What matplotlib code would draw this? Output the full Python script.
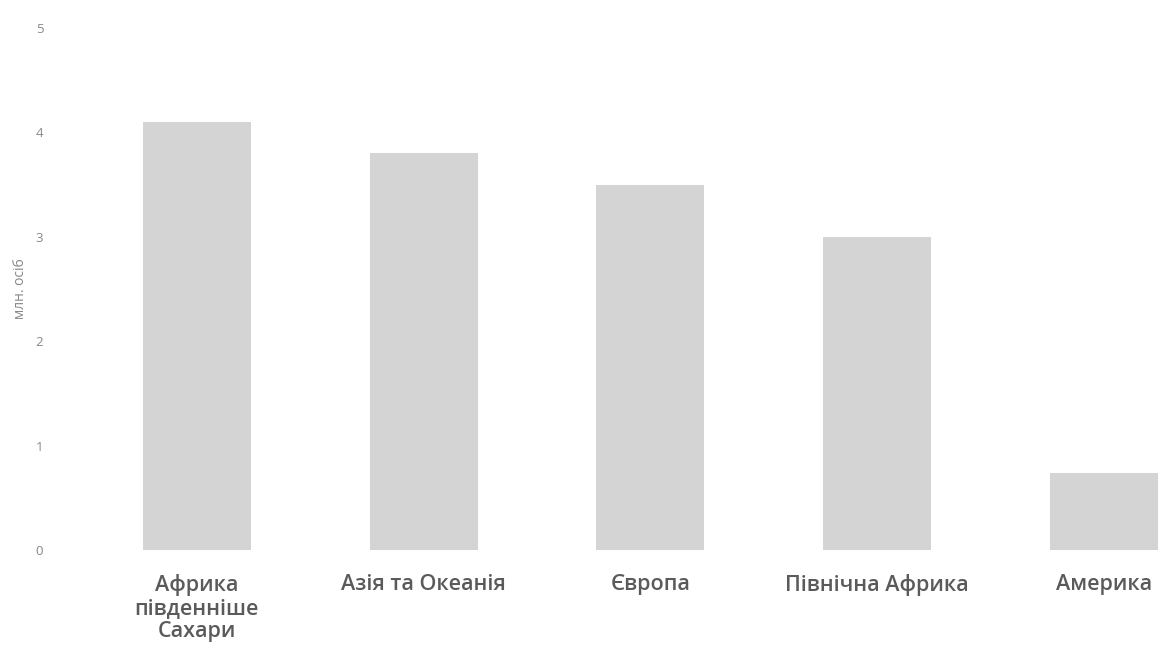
import numpy as np
import matplotlib.pyplot as plt

regions = ['Африка\nпівденніше\nСахари', 'Азія та Океанія', 'Європа',
           'Північна Африка', 'Америка']
values = [4.1, 3.8, 3.5, 3.0, 0.74]
yticks = [0, 1, 2, 3, 4, 5]

plt.rcParams['font.family'] = ['DejaVu Sans']

fig = plt.figure(figsize=(11.6, 6.52), dpi=100)
ax = fig.add_axes([0.0517, 0.1564, 0.948, 0.8006])

x = np.arange(len(regions))
ax.bar(x, values, width=0.476, color='#d4d4d4')

ax.set_xlim(-0.604, 4.247)
ax.set_ylim(0, 5)
ax.set_yticks(yticks)
ax.set_yticklabels([str(v) for v in yticks], fontsize=9.5, color='#888888',
                   family='Open Sans')
ax.set_xticks(x)
ax.set_xticklabels(regions, fontsize=15.5, color='#5a5a5a', fontweight='semibold',
                   family='Open Sans', linespacing=1.15)
ax.tick_params(axis='both', length=0)
ax.tick_params(axis='y', pad=12)
ax.tick_params(axis='x', pad=17)
for s in ax.spines.values():
    s.set_visible(False)

ax.set_ylabel('млн. осіб', fontsize=10, color='#888888', family='Open Sans')
ax.yaxis.set_label_coords(-0.029, 0.5)

fig.savefig('out.png', dpi=100)
